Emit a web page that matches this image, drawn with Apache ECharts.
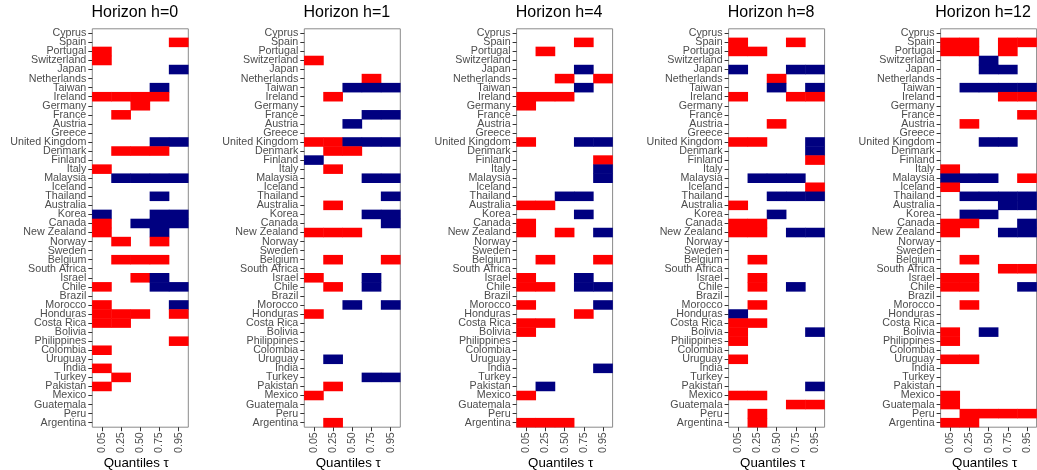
<!DOCTYPE html>
<html>
<head>
<meta charset="utf-8">
<script src="https://cdn.jsdelivr.net/npm/echarts@6/dist/echarts.min.js"></script>
<style>
  html, body { margin: 0; padding: 0; background: #fff; }
  #chart { width: 1037px; height: 470px; }
</style>
</head>
<body>
<div id="chart"></div>
<script>
// Countries, top to bottom
const countries = [
  'Cyprus', 'Spain', 'Portugal', 'Switzerland', 'Japan', 'Netherlands', 'Taiwan',
  'Ireland', 'Germany', 'France', 'Austria', 'Greece', 'United Kingdom', 'Denmark',
  'Finland', 'Italy', 'Malaysia', 'Iceland', 'Thailand', 'Australia', 'Korea',
  'Canada', 'New Zealand', 'Norway', 'Sweden', 'Belgium', 'South Africa', 'Israel',
  'Chile', 'Brazil', 'Morocco', 'Honduras', 'Costa Rica', 'Bolivia', 'Philippines',
  'Colombia', 'Uruguay', 'India', 'Turkey', 'Pakistan', 'Mexico', 'Guatemala',
  'Peru', 'Argentina'
];
const quantiles = ['0.05', '0.25', '0.50', '0.75', '0.95'];
const horizons = ['0', '1', '4', '8', '12'];

// Significant effect per country across the quantiles:
// '+' positive, '-' negative, '.' not significant
const h0 = [
  '.....', '....+', '+....', '+....', '....-', '.....', '...-.',
  '++++.', '..+..', '.+...', '.....', '.....', '...--', '.+++.',
  '.....', '+....', '.----', '.....', '...-.', '.....', '-..--',
  '+.---', '+..-.', '.+.+.', '.....', '.+++.', '.....', '..+-.',
  '+..--', '.....', '+...-', '+++.+', '++...', '.....', '....+',
  '+....', '.....', '+....', '.+...', '+....', '.....', '.....',
  '.....', '.....'
];
const h1 = [
  '.....', '.....', '.....', '+....', '.....', '...+.', '..---',
  '.+...', '.....', '...--', '..-..', '.....', '++---', '.++..',
  '-....', '.+...', '...--', '.....', '....-', '.+...', '...--',
  '....-', '+++..', '.....', '.....', '.+..+', '.....', '+..-.',
  '.+.-.', '.....', '..-.-', '+....', '.....', '.....', '.....',
  '.....', '.-...', '.....', '...--', '.+...', '+....', '.....',
  '.....', '.+...'
];
const h4 = [
  '.....', '...+.', '.+...', '.....', '...-.', '..+.+', '...-.',
  '+++..', '+....', '.....', '.....', '.....', '+..--', '.....',
  '....+', '....-', '....-', '.....', '..--.', '++...', '...-.',
  '+....', '+.+.-', '.....', '.....', '.+..+', '.....', '+..-.',
  '++.--', '.....', '+...-', '...+.', '++...', '+....', '.....',
  '.....', '.....', '....-', '.....', '.-...', '+....', '.....',
  '.....', '+++..'
];
const h8 = [
  '.....', '+..+.', '++...', '.....', '-..--', '..+..', '..-.-',
  '+..++', '.....', '.....', '..+..', '.....', '++..-', '....-',
  '....+', '.....', '.---.', '....+', '..---', '+....', '..-..',
  '++...', '++.--', '.....', '.....', '.+...', '.....', '.+...',
  '.+.-.', '.....', '.+...', '-....', '++...', '+...-', '+....',
  '.....', '+....', '.....', '.....', '....-', '++...', '...++',
  '.+...', '.+...'
];
const h12 = [
  '.....', '++.++', '++.+.', '..-..', '..--.', '.....', '.----',
  '...++', '.....', '....+', '.+...', '.....', '..--.', '.....',
  '.....', '+....', '---.+', '+....', '.----', '...--', '.--..',
  '++..-', '+..--', '.....', '.....', '.+...', '...++', '++...',
  '++..-', '.....', '.+...', '.....', '.....', '+.-..', '+....',
  '.....', '++...', '.....', '.....', '.....', '+....', '+....',
  '.++++', '++...'
];
const panels = [h0, h1, h4, h8, h12];

// Convert the sign codes into heatmap cells [quantile, country, sign]
function toCells(rows) {
  const cells = [];
  rows.forEach(function (row, ci) {
    for (let qi = 0; qi < row.length; qi++) {
      const ch = row[qi];
      if (ch === '+') cells.push([qi, ci, 1]);
      else if (ch === '-') cells.push([qi, ci, -1]);
    }
  });
  return cells;
}

const FONT = '"Liberation Sans", Arial, Helvetica, sans-serif';
const panelLeft = [92.3, 304.3, 516.6, 728.6, 940.6];
const panelWidth = 96;
const panelTop = 28.8;
const panelHeight = 398.4;

const grids = [], xAxes = [], yAxes = [], series = [], graphics = [];
panels.forEach(function (rows, i) {
  grids.push({
    left: panelLeft[i], top: panelTop, width: panelWidth, height: panelHeight,
    show: true, borderColor: '#8a8a8a', borderWidth: 1, backgroundColor: '#fff'
  });
  xAxes.push({
    type: 'category', gridIndex: i, data: quantiles,
    axisLine: { show: false },
    axisTick: { show: true, alignWithLabel: true, length: 4, lineStyle: { color: '#333', width: 1 } },
    axisLabel: { rotate: 90, interval: 0, fontSize: 10.7, color: '#4d4d4d', margin: 5, fontFamily: FONT },
    splitLine: { show: false }
  });
  yAxes.push({
    type: 'category', gridIndex: i, data: countries, inverse: true,
    axisLine: { show: false },
    axisTick: { show: true, alignWithLabel: true, length: 4, lineStyle: { color: '#333', width: 1 } },
    axisLabel: { interval: 0, fontSize: 10.7, color: '#4d4d4d', margin: 6, fontFamily: FONT },
    splitLine: { show: false }
  });
  series.push({
    type: 'heatmap', xAxisIndex: i, yAxisIndex: i,
    data: toCells(rows),
    itemStyle: { borderWidth: 0 },
    emphasis: { disabled: true }
  });
  const cx = panelLeft[i] + panelWidth / 2;
  graphics.push({
    type: 'text', x: cx - 5.5, y: 13,
    style: { text: 'Horizon h=' + horizons[i], fill: '#000', font: '16px ' + FONT, align: 'center', verticalAlign: 'middle' }
  });
  graphics.push({
    type: 'text', x: cx - 4, y: 463,
    style: { text: 'Quantiles τ', fill: '#000', font: '13.3px ' + FONT, align: 'center', verticalAlign: 'middle' }
  });
});

const chart = echarts.init(document.getElementById('chart'), null, { renderer: 'canvas' });
chart.setOption({
  animation: false,
  backgroundColor: '#fff',
  grid: grids,
  xAxis: xAxes,
  yAxis: yAxes,
  visualMap: {
    type: 'piecewise', show: false, dimension: 2,
    seriesIndex: [0, 1, 2, 3, 4],
    pieces: [
      { value: 1, color: '#ff0000' },
      { value: -1, color: '#000080' }
    ]
  },
  series: series,
  graphic: graphics
});
</script>
</body>
</html>
